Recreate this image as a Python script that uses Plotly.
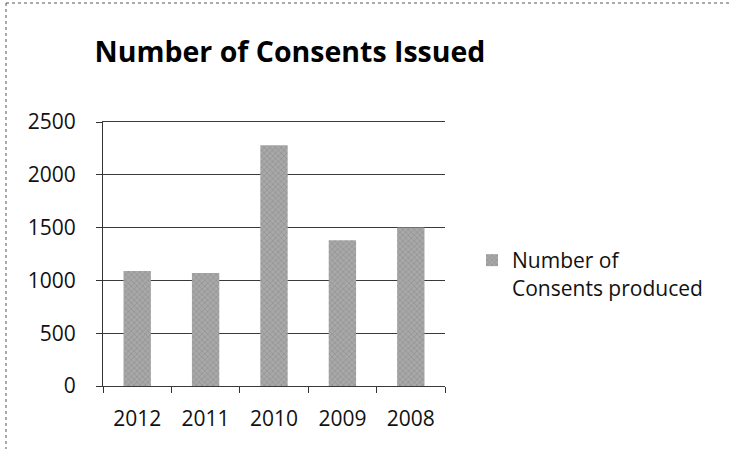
import plotly.graph_objects as go

categories = ["2012", "2011", "2010", "2009", "2008"]
values = [1090, 1070, 2280, 1380, 1500]
series_name = "Number of<br>Consents produced"
title_text = "Number of Consents Issued"
y_ticks = [0, 500, 1000, 1500, 2000, 2500]

W, H = 732, 449
L, R, T, B = 103, 287, 122, 63
pw, ph = W - L - R, H - T - B

def px_x(x):
    return (x - L) / pw

def px_y(y):
    return (H - B - y) / ph

fig = go.Figure()
fig.add_trace(go.Bar(
    x=categories, y=values, name=series_name, width=0.4,
    marker=dict(color="#a8a8a8", line=dict(width=0),
                pattern=dict(shape="x", fgcolor="#6a6a6a", size=4, solidity=0.25)),
    showlegend=True,
))

fig.update_layout(
    width=W, height=H,
    margin=dict(l=L, r=R, t=T, b=B, pad=0),
    paper_bgcolor="white", plot_bgcolor="white",
    font=dict(family="Open Sans", size=21, color="#111"),
    title=dict(text="<b>" + title_text + "</b>", x=290 / W, xref="container", xanchor="center",
               y=1 - 52 / H, yref="container", yanchor="middle",
               font=dict(family="Open Sans", size=28.5, color="#000")),
    showlegend=True,
    legend=dict(x=px_x(472), y=px_y(240), xanchor="left", yanchor="top",
                font=dict(family="Open Sans", size=21, color="#111"),
                itemwidth=30, valign="top", bgcolor="rgba(0,0,0,0)"),
    bargap=0.6,
)
fig.update_yaxes(range=[0, 2500], tickvals=y_ticks, showgrid=True, gridcolor="#3a3a3a", gridwidth=1,
                 showline=True, linecolor="#333", linewidth=1, ticks="outside", ticklen=6,
                 tickcolor="#333", ticklabelstandoff=16, zeroline=False, fixedrange=True)
fig.update_xaxes(showline=True, linecolor="#3a3a3a", linewidth=1, mirror=True, ticks="outside", ticklen=6,
                 tickcolor="#333", tickson="boundaries", ticklabelstandoff=14, showgrid=False,
                 fixedrange=True)

# chart frame (top and left edges visible in the scan)
fig.add_shape(type="line", xref="paper", yref="paper", x0=px_x(6), x1=px_x(732), y0=px_y(3), y1=px_y(3),
              line=dict(color="#555", width=1, dash="dot"))
fig.add_shape(type="line", xref="paper", yref="paper", x0=px_x(6), x1=px_x(6), y0=px_y(3), y1=px_y(449),
              line=dict(color="#555", width=1, dash="dot"))

fig.write_html("out.html", config={"displayModeBar": False},
               post_script="document.body.style.margin='0';document.body.style.overflow='hidden';")
